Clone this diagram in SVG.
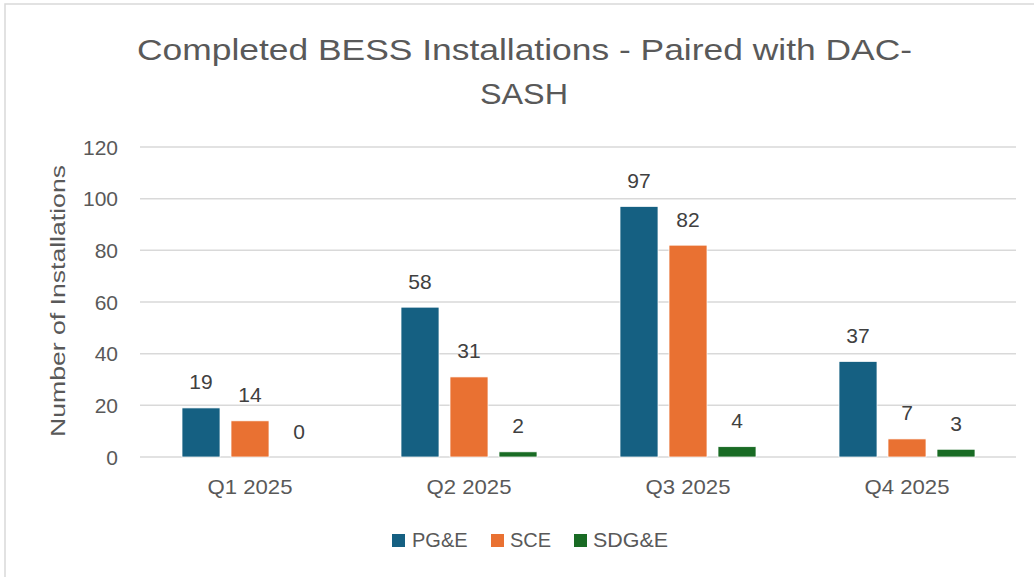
<svg xmlns="http://www.w3.org/2000/svg" width="1034" height="577" viewBox="0 0 1034 577">
<style>
text{font-family:"Liberation Sans",Arial,sans-serif}
.title{font-size:30px;fill:#595959}
.tick{font-size:21px;fill:#595959}
.leg{font-size:20px;fill:#595959}
.axt{font-size:21px;fill:#595959}
.val{font-size:21px;fill:#404040;text-anchor:middle}
.grid{stroke:#D9D9D9;stroke-width:1.5}
.pge{fill:#156082}
.sce{fill:#E97132}
.sdge{fill:#196B24}
.bar{stroke:#ffffff;stroke-width:0.75}
</style>
<rect x="0" y="0" width="1034" height="577" fill="#ffffff"/>
<rect x="5" y="4" width="1040" height="580" fill="#ffffff" stroke="#D9D9D9" stroke-width="1.5"/>
<g id="title">
<text class="title" x="137" y="60" textLength="775" lengthAdjust="spacingAndGlyphs">Completed BESS Installations - Paired with DAC-</text>
<text class="title" x="480" y="104" textLength="88" lengthAdjust="spacingAndGlyphs">SASH</text>
</g>
<g id="gridlines">
<line class="grid" x1="140" y1="147" x2="1016" y2="147"/>
<line class="grid" x1="140" y1="198.67" x2="1016" y2="198.67"/>
<line class="grid" x1="140" y1="250.33" x2="1016" y2="250.33"/>
<line class="grid" x1="140" y1="302" x2="1016" y2="302"/>
<line class="grid" x1="140" y1="353.67" x2="1016" y2="353.67"/>
<line class="grid" x1="140" y1="405.33" x2="1016" y2="405.33"/>
<line class="grid" x1="140" y1="457" x2="1016" y2="457"/>
</g>
<g id="y-axis" text-anchor="end">
<text class="tick" x="118" y="154.5">120</text>
<text class="tick" x="118" y="206.2">100</text>
<text class="tick" x="118" y="257.8">80</text>
<text class="tick" x="118" y="309.5">60</text>
<text class="tick" x="118" y="361.2">40</text>
<text class="tick" x="118" y="412.8">20</text>
<text class="tick" x="118" y="464.5">0</text>
</g>
<g id="y-title">
<text class="axt" transform="translate(65,301) rotate(-90)" text-anchor="middle" textLength="272" lengthAdjust="spacingAndGlyphs">Number of Installations</text>
</g>
<g id="x-axis" text-anchor="middle">
<text class="tick" x="250" y="494" textLength="85" lengthAdjust="spacingAndGlyphs">Q1 2025</text>
<text class="tick" x="469" y="494" textLength="85" lengthAdjust="spacingAndGlyphs">Q2 2025</text>
<text class="tick" x="688" y="494" textLength="85" lengthAdjust="spacingAndGlyphs">Q3 2025</text>
<text class="tick" x="907" y="494" textLength="85" lengthAdjust="spacingAndGlyphs">Q4 2025</text>
</g>
<g id="series-pge">
<rect class="bar pge" x="182" y="407.92" width="38" height="49.08"/>
<rect class="bar pge" x="401" y="307.17" width="38" height="149.83"/>
<rect class="bar pge" x="620" y="206.42" width="38" height="250.58"/>
<rect class="bar pge" x="839" y="361.42" width="38" height="95.58"/>
<text class="val" x="201" y="389.4">19</text>
<text class="val" x="420" y="288.7">58</text>
<text class="val" x="639" y="187.9">97</text>
<text class="val" x="858" y="342.9">37</text>
</g>
<g id="series-sce">
<rect class="bar sce" x="231" y="420.83" width="38" height="36.17"/>
<rect class="bar sce" x="450" y="376.92" width="38" height="80.08"/>
<rect class="bar sce" x="669" y="245.17" width="38" height="211.83"/>
<rect class="bar sce" x="888" y="438.92" width="38" height="18.08"/>
<text class="val" x="250" y="402.3">14</text>
<text class="val" x="469" y="358.4">31</text>
<text class="val" x="688" y="226.7">82</text>
<text class="val" x="907" y="420.4">7</text>
</g>
<g id="series-sdge">
<rect class="bar sdge" x="499" y="451.83" width="38" height="5.17"/>
<rect class="bar sdge" x="718" y="446.67" width="38" height="10.33"/>
<rect class="bar sdge" x="937" y="449.25" width="38" height="7.75"/>
<text class="val" x="299" y="438.5">0</text>
<text class="val" x="518" y="433.3">2</text>
<text class="val" x="737" y="428.2">4</text>
<text class="val" x="956" y="430.8">3</text>
</g>
<g id="legend">
<rect class="pge" x="392" y="534" width="13" height="13"/>
<text class="leg" x="412" y="547">PG&amp;E</text>
<rect class="sce" x="491" y="534" width="13" height="13"/>
<text class="leg" x="510" y="547">SCE</text>
<rect class="sdge" x="574" y="534" width="13" height="13"/>
<text class="leg" x="593" y="547" textLength="75" lengthAdjust="spacingAndGlyphs">SDG&amp;E</text>
</g>
</svg>
